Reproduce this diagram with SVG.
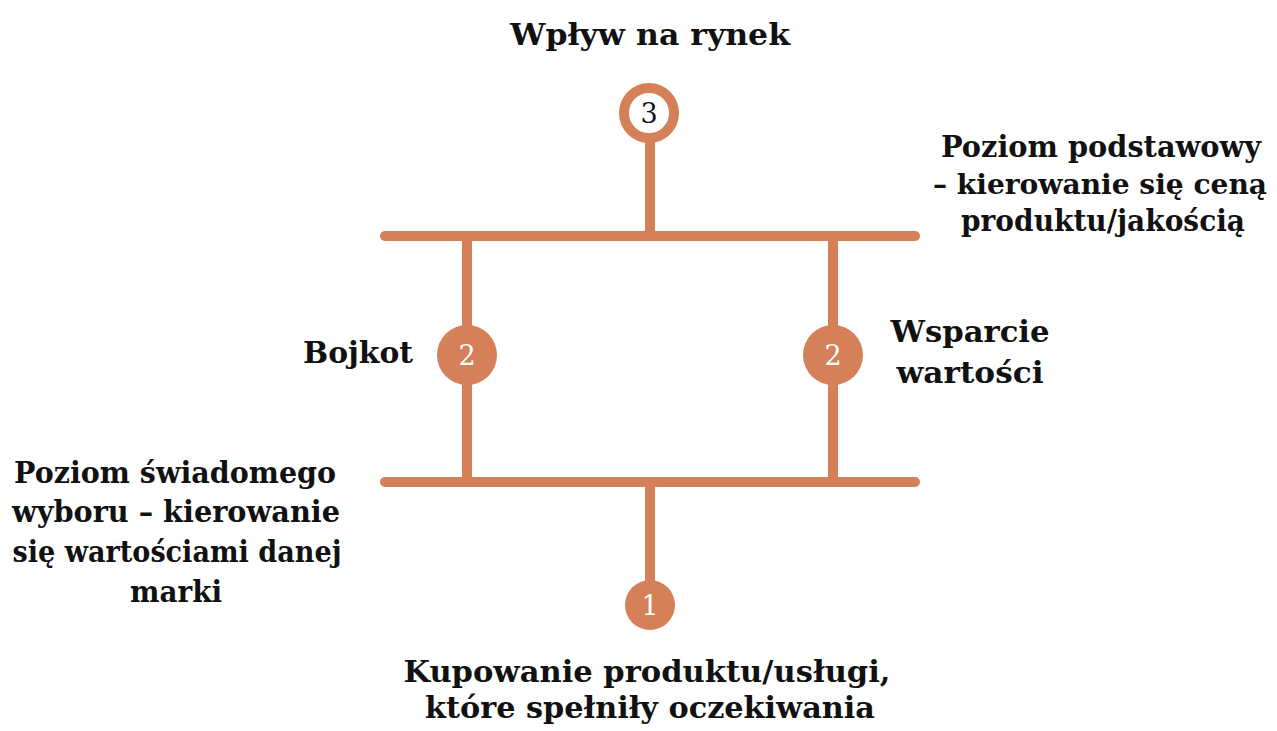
<svg xmlns="http://www.w3.org/2000/svg" width="1277" height="731" viewBox="0 0 1277 731">
<style>
.ln{stroke:#D6805A;stroke-width:10;stroke-linecap:round;fill:none}
.dot{fill:#D6805A}
.ring{fill:#fff;stroke:#D6805A;stroke-width:10}
.num{font-family:"DejaVu Serif","Liberation Serif",serif;font-size:27px;text-anchor:middle}
.lbl{font-family:"DejaVu Serif","Liberation Serif",serif;font-weight:bold;font-size:30px;fill:#111;text-anchor:middle}
</style>
<rect width="1277" height="731" fill="#fff"/>
<g id="connectors">
<line class="ln" x1="385" y1="236" x2="915" y2="236"/>
<line class="ln" x1="385" y1="482" x2="915" y2="482"/>
<line class="ln" x1="650" y1="140" x2="650" y2="236"/>
<line class="ln" x1="650" y1="482" x2="650" y2="590"/>
<line class="ln" x1="467" y1="236" x2="467" y2="482"/>
<line class="ln" x1="833" y1="236" x2="833" y2="482"/>
</g>
<g id="node3">
<circle class="ring" cx="649" cy="113" r="25"/>
<text class="num" x="649" y="123" fill="#111">3</text>
<text class="lbl" x="650" y="45" textLength="280" lengthAdjust="spacingAndGlyphs">Wpływ na rynek</text>
</g>
<g id="node2a">
<circle class="dot" cx="467" cy="355" r="30"/>
<text class="num" x="467" y="365" fill="#fff">2</text>
<text class="lbl" x="358" y="363" textLength="110" lengthAdjust="spacingAndGlyphs">Bojkot</text>
</g>
<g id="node2b">
<circle class="dot" cx="833" cy="355" r="30"/>
<text class="num" x="833" y="365" fill="#fff">2</text>
<text class="lbl" x="970" y="342" textLength="159" lengthAdjust="spacingAndGlyphs">Wsparcie</text>
<text class="lbl" x="970" y="383" textLength="147" lengthAdjust="spacingAndGlyphs">wartości</text>
</g>
<g id="node1">
<circle class="dot" cx="650" cy="605" r="25"/>
<text class="num" x="650" y="615" fill="#fff">1</text>
<text class="lbl" x="647" y="682" textLength="487" lengthAdjust="spacingAndGlyphs">Kupowanie produktu/usługi,</text>
<text class="lbl" x="650" y="718" textLength="450" lengthAdjust="spacingAndGlyphs">które spełniły oczekiwania</text>
</g>
<g id="top-level">
<text class="lbl" x="1101" y="157" textLength="320" lengthAdjust="spacingAndGlyphs">Poziom podstawowy</text>
<text class="lbl" x="1100" y="194" style="font-size:28.5px" textLength="334" lengthAdjust="spacingAndGlyphs">– kierowanie się ceną</text>
<text class="lbl" x="1103" y="231" textLength="284" lengthAdjust="spacingAndGlyphs">produktu/jakością</text>
</g>
<g id="bottom-level">
<text class="lbl" x="175" y="483" textLength="322" lengthAdjust="spacingAndGlyphs">Poziom świadomego</text>
<text class="lbl" x="176" y="522" textLength="328" lengthAdjust="spacingAndGlyphs">wyboru – kierowanie</text>
<text class="lbl" x="177" y="562" textLength="329" lengthAdjust="spacingAndGlyphs">się wartościami danej</text>
<text class="lbl" x="176" y="602" textLength="92" lengthAdjust="spacingAndGlyphs">marki</text>
</g>
</svg>
